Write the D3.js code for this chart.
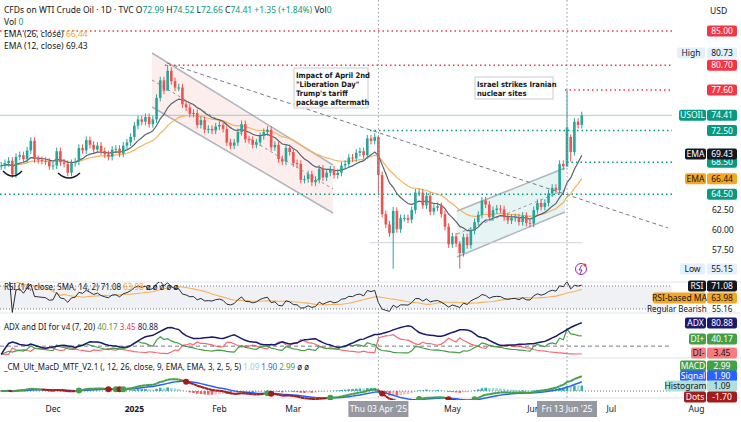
<!DOCTYPE html>
<html><head><meta charset="utf-8">
<script src="https://cdn.jsdelivr.net/npm/d3@7"></script>
<style>body{margin:0;background:#fff}svg{font-family:"Noto Sans",Roboto,sans-serif}</style>
</head><body><svg id="c" width="741" height="422"></svg>
<script>
// daily closes, WTI (weekdays from Nov 12 2024)
let closesNov = [68.1, 68.4, 68.7, 67.0, 69.2, 69.4, 68.9, 70.0, 71.2, 68.9, 68.8, 68.7, 68.6, 68.0]
let closesDec = [68.1, 69.9, 68.5, 68.3, 67.2, 68.4, 68.6, 70.3, 70.0, 71.3, 70.7, 70.1, 70.6, 69.9, 69.5, 69.2, 70.1, 70.2, 69.6, 70.6, 71.0, 71.7]
let closesJan = [73.1, 73.9, 73.6, 74.2, 73.3, 73.9, 76.6, 78.8, 77.5, 80.0, 78.7, 77.9, 77.9, 75.8, 75.4, 74.6, 74.7, 73.2, 73.8, 72.6, 72.7, 72.5, 73.0]
let closesFeb = [73.2, 72.7, 71.0, 70.6, 71.0, 72.3, 73.3, 71.4, 71.3, 70.7, 71.0, 71.8, 72.3, 72.6, 70.4, 70.7, 68.9, 68.6, 70.3, 69.8]
let closesMar = [68.4, 68.3, 66.3, 66.4, 67.0, 66.0, 66.3, 67.7, 66.6, 67.2, 67.6, 66.9, 67.2, 68.1, 68.3, 69.1, 69.0, 69.7, 69.9, 69.4, 71.5]
let closesApr = [71.2, 71.7, 66.9, 62.0, 60.7, 59.6, 62.4, 60.1, 61.5, 61.5, 61.3, 62.5, 64.7, 64.7, 63.1, 64.3, 62.3, 62.8, 63.0, 62.0, 60.4, 58.2]
let closesMay = [59.2, 58.3, 57.1, 59.1, 58.1, 59.9, 61.0, 61.9, 63.7, 63.2, 61.6, 62.5, 62.7, 62.6, 61.6, 61.2, 61.5, 61.6, 61.0, 61.8, 60.9, 60.8]
let closesJun = [62.5, 63.4, 62.9, 63.4, 64.6, 65.3, 65.0, 68.3, 68.0, 72.9, 69.8, 73.6, 73.2, 74.41]
// notable wicks: [bar index, high, low]
let extremes = [[45, 80.73, 78.9], [102, 71.9, 64.5], [106, 62.9, 55.12], [124, 58.6, 55.15], [153, 77.6, 67.9], [154, 72.0, 68.6]]

let levelsRed = [85.0, 80.7, 77.6]
let levelsGreen = [72.5, 68.5, 64.5]
let monthTicks = [['Dec', '2024-12-02'], ['2025', '2025-01-01'], ['Feb', '2025-02-03'], ['Mar', '2025-03-03'], ['May', '2025-05-01'], ['Jun', '2025-06-02'], ['Jul', '2025-07-01'], ['Aug', '2025-08-01']]

let closes = [].concat(closesNov, closesDec, closesJan, closesFeb, closesMar, closesApr, closesMay, closesJun)
let days = d3.timeDay.range(new Date(2024, 10, 12), new Date(2025, 7, 30)).filter(d => d.getDay() > 0 && d.getDay() < 6)
let fmt = d3.timeFormat('%Y-%m-%d')
let dayIdx = new Map(days.map((d, i) => [fmt(d), i]))

let bars = closes.map((c, i) => {
  let o = i ? closes[i - 1] : 68.0
  if (i == 154) o = 71.7
  let hi = Math.max(o, c) + 0.45, lo = Math.min(o, c) - 0.45
  let ex = extremes.find(e => e[0] == i)
  if (ex) { hi = ex[1]; lo = ex[2] }
  return { i, o, c, hi, lo }
})

// indicators
function ema(a, n) { let k = 2 / (n + 1), out = [], p = a[0]; a.forEach((v, i) => { p = i ? v * k + p * (1 - k) : v; out.push(p) }); return out }
function sma(a, n) { return a.map((v, i) => d3.mean(a.slice(Math.max(0, i - n + 1), i + 1))) }
function rma(a, n) { let out = [], p = a[0]; a.forEach((v, i) => { p = i ? (p * (n - 1) + v) / n : v; out.push(p) }); return out }
let ema12 = ema(closes, 12), ema26 = ema(closes, 26)
let ups = closes.map((c, i) => i ? Math.max(c - closes[i - 1], 0) : 0)
let dns = closes.map((c, i) => i ? Math.max(closes[i - 1] - c, 0) : 0)
let ru = rma(ups, 14), rd = rma(dns, 14)
let rsi = ru.map((u, i) => rd[i] == 0 ? 100 : 100 - 100 / (1 + u / rd[i]))
let rsiMa = sma(rsi, 14)
let tr = bars.map((b, i) => i ? Math.max(b.hi - b.lo, Math.abs(b.hi - bars[i - 1].c), Math.abs(b.lo - bars[i - 1].c)) : b.hi - b.lo)
let pdm = bars.map((b, i) => { if (!i) return 0; let u = b.hi - bars[i - 1].hi, d = bars[i - 1].lo - b.lo; return u > d && u > 0 ? u : 0 })
let mdm = bars.map((b, i) => { if (!i) return 0; let u = b.hi - bars[i - 1].hi, d = bars[i - 1].lo - b.lo; return d > u && d > 0 ? d : 0 })
let atr = rma(tr, 7), sp = rma(pdm, 7), sm = rma(mdm, 7)
let diP = sp.map((v, i) => 100 * v / atr[i]), diM = sm.map((v, i) => 100 * v / atr[i])
let dx = diP.map((v, i) => 100 * Math.abs(v - diM[i]) / Math.max(v + diM[i], 1e-6))
let adx = rma(dx, 7)
let macd = ema12.map((v, i) => v - ema26[i]), signal = ema(macd, 9)
let hist = macd.map((v, i) => v - signal[i])

// scales
let svg = d3.select('#c')
let x = d3.scaleLinear().domain([14, 153]).range([53, 567])
let y = d3.scaleLinear().domain([85, 60]).range([31, 230])
let yR = d3.scaleLinear().domain([70, 30]).range([286, 309])
let yA = d3.scaleLinear().domain([0, 80.88]).range([354.4, 321])
let yM = d3.scaleLinear().domain([0, 2.99]).range([391, 376])
const G = '#089981', R = '#f23645', W = 672

let defs = svg.append('defs')
;[['main', 0, 672, 283], ['rsi', 282, 672, 31], ['adx', 313, 672, 45], ['macd', 358, 672, 42]].forEach(([id, yy, w, h]) =>
  defs.append('clipPath').attr('id', id).append('rect').attr('x', 0).attr('y', id == 'main' ? 0 : yy).attr('width', w).attr('height', h))

// pane separators
;[282, 313, 358, 398].forEach(v => svg.append('line').attr('x1', 0).attr('x2', 741).attr('y1', v).attr('y2', v).attr('stroke', '#e0e3eb'))

let main = svg.append('g').attr('clip-path', 'url(#main)')

// descending channel
let dc = [[152, 53], [333, 165], [333, 213], [152, 107]]
main.append('path').attr('d', d3.line()(dc)).attr('fill', '#f7c6c6').attr('fill-opacity', 0.3)
main.append('line').attr('x1', 152).attr('y1', 53).attr('x2', 333).attr('y2', 165).attr('stroke', '#b2b5be').attr('stroke-width', 1.5)
main.append('line').attr('x1', 152).attr('y1', 107).attr('x2', 333).attr('y2', 213).attr('stroke', '#b2b5be').attr('stroke-width', 1.5)
main.append('line').attr('x1', 152).attr('y1', 80).attr('x2', 333).attr('y2', 189).attr('stroke', '#9598a1').attr('stroke-dasharray', '3,3')
// ascending channel
let ac = [[457, 211], [565, 168], [565, 212], [457, 257]]
main.append('path').attr('d', d3.line()(ac)).attr('fill', '#b8e0e0').attr('fill-opacity', 0.35)
main.append('line').attr('x1', 457).attr('y1', 211).attr('x2', 565).attr('y2', 168).attr('stroke', '#b2b5be').attr('stroke-width', 1.5)
main.append('line').attr('x1', 457).attr('y1', 257).attr('x2', 565).attr('y2', 212).attr('stroke', '#b2b5be').attr('stroke-width', 1.5)
main.append('line').attr('x1', 457).attr('y1', 234).attr('x2', 565).attr('y2', 190).attr('stroke', '#9598a1').attr('stroke-dasharray', '3,3')

// trendline
main.append('line').attr('x1', 167).attr('y1', 63).attr('x2', 668).attr('y2', 228).attr('stroke', '#787b86').attr('stroke-dasharray', '4,3')
main.append('line').attr('x1', 370).attr('x2', 582).attr('y1', y(58.4)).attr('y2', y(58.4)).attr('stroke', '#d1d4dc')

// levels
let redStart = [0, 165, 565], greenStart = [370, 567, 0]
levelsRed.forEach((v, i) => main.append('line').attr('x1', redStart[i]).attr('x2', W).attr('y1', y(v)).attr('y2', y(v)).attr('stroke', R).attr('stroke-width', 1.5).attr('stroke-dasharray', '1.5,3'))
levelsGreen.forEach((v, i) => main.append('line').attr('x1', greenStart[i]).attr('x2', W).attr('y1', y(v)).attr('y2', y(v)).attr('stroke', G).attr('stroke-width', 1.5).attr('stroke-dasharray', '1.5,3'))
main.append('line').attr('x1', 0).attr('x2', W).attr('y1', y(74.41)).attr('y2', y(74.41)).attr('stroke', G).attr('stroke-opacity', 0.4)

// vertical crosshair lines
;[102, 153].forEach(i => svg.append('line').attr('x1', x(i)).attr('x2', x(i)).attr('y1', 0).attr('y2', 398).attr('stroke', '#9598a1').attr('stroke-dasharray', '1.5,2.5'))

// EMAs
let ln = (arr, sc) => d3.line().x((d, i) => x(i)).y(d => sc(d))(arr)
main.append('path').attr('d', ln(ema26, y)).attr('fill', 'none').attr('stroke', '#f5b35b').attr('stroke-width', 1.2)
main.append('path').attr('d', ln(ema12, y)).attr('fill', 'none').attr('stroke', '#5d606b').attr('stroke-width', 1.2)

// candles
let cg = main.selectAll('g.c').data(bars).join('g').attr('class', 'c')
cg.append('line').attr('x1', d => x(d.i)).attr('x2', d => x(d.i)).attr('y1', d => y(d.hi)).attr('y2', d => y(d.lo)).attr('stroke', d => d.c >= d.o ? '#26a69a' : '#ef5350')
cg.append('rect').attr('x', d => x(d.i) - 1.3).attr('width', 2.6).attr('y', d => y(Math.max(d.o, d.c)))
  .attr('height', d => Math.max(1, Math.abs(y(d.o) - y(d.c)))).attr('fill', d => d.c >= d.o ? '#26a69a' : '#ef5350')

// smiles
;[[3, 22, 171], [58, 80, 173]].forEach(([a, b, yy]) => main.append('path').attr('d', `M${a},${yy} Q${(a + b) / 2},${yy + 10} ${b},${yy}`).attr('fill', 'none').attr('stroke', '#131722').attr('stroke-width', 1.5))

// annotations
function note(x0, y0, w, lines) {
  let g = svg.append('g')
  g.append('rect').attr('x', x0).attr('y', y0).attr('width', w).attr('height', lines.length * 9 + 4).attr('fill', '#fff').attr('stroke', '#c9cbd1')
  lines.forEach((t, i) => g.append('text').attr('x', x0 + 2).attr('y', y0 + 10 + i * 9).text(t).attr('font-size', 7.6).attr('font-weight', 600).attr('fill', '#131722').attr('font-family', '"Liberation Sans Narrow","DejaVu Sans Condensed",sans-serif'))
}
note(294, 68, 74, ['Impact of April 2nd', '"Liberation Day"', "Trump's tariff", 'package aftermath'])
note(475, 77, 78, ['Israel strikes Iranian', 'nuclear sites'])

// lightning icon
svg.append('circle').attr('cx', 581).attr('cy', 269).attr('r', 5.5).attr('fill', 'none').attr('stroke', '#9c27b0')
svg.append('path').attr('d', 'M582,265 L579,270 L582,270 L580,274').attr('fill', 'none').attr('stroke', '#9c27b0')
svg.append('circle').attr('cx', 585).attr('cy', 265).attr('r', 1.5).attr('fill', R)

// legend
let t = (xx, yy, s, col, fs, fw) => svg.append('text').attr('x', xx).attr('y', yy).text(s).attr('fill', col || '#131722').attr('font-size', fs || 8.5).attr('font-weight', fw || 400)
let leg = svg.append('text').attr('x', 4).attr('y', 13).attr('font-size', 8.5).attr('fill', '#131722')
leg.append('tspan').text('CFDs on WTI Crude Oil · 1D · TVC  O')
leg.append('tspan').text('72.99').attr('fill', G)
leg.append('tspan').text(' H')
leg.append('tspan').text('74.52').attr('fill', G)
leg.append('tspan').text(' L')
leg.append('tspan').text('72.66').attr('fill', G)
leg.append('tspan').text(' C')
leg.append('tspan').text('74.41 +1.35 (+1.84%)').attr('fill', G)
leg.append('tspan').text(' Vol')
leg.append('tspan').text('0').attr('fill', G)
let l2 = svg.append('text').attr('x', 4).attr('y', 25).attr('font-size', 8.5).attr('fill', '#131722')
l2.append('tspan').text('Vol ')
l2.append('tspan').text('0').attr('fill', G)
let l3 = svg.append('text').attr('x', 4).attr('y', 37).attr('font-size', 8.5).attr('fill', '#131722')
l3.append('tspan').text('EMA (26, close) ')
l3.append('tspan').text('66.44').attr('fill', '#f5a623')
t(4, 49, 'EMA (12, close)  69.43')

// price axis
function tag(yy, s, bg, col, xx, w) {
  svg.append('rect').attr('x', xx || 707).attr('y', yy - 5.5).attr('width', w || 30).attr('height', 11).attr('rx', 2).attr('fill', bg)
  svg.append('text').attr('x', (xx || 707) + (w || 30) / 2).attr('y', yy + 3).attr('text-anchor', 'middle').text(s).attr('fill', col).attr('font-size', 8.5)
}
t(710, 14, 'USD')
;[62.5, 60, 57.5].forEach(v => t(712, y(v) + 3, v.toFixed(2), '#131722'))
levelsRed.forEach(v => tag(y(v), v.toFixed(2), R, '#fff'))
levelsGreen.forEach(v => tag(y(v), v.toFixed(2), G, '#fff'))
tag(53, 'High', '#e3effd', '#131722', 677, 28); tag(53, '80.73', '#e3effd', '#131722')
tag(y(74.41), 'USOIL', G, '#fff', 679, 27); tag(y(74.41), '74.41', G, '#fff')
tag(y(69.43) - 1, 'EMA', '#131722', '#fff', 685, 21); tag(y(69.43) - 1, '69.43', '#131722', '#fff')
tag(y(66.44), 'EMA', '#f5a623', '#131722', 685, 21); tag(y(66.44), '66.44', '#f5a623', '#131722')
tag(269, 'Low', '#e3effd', '#131722', 680, 25); tag(269, '55.15', '#e3effd', '#131722')

// RSI pane
let rp = svg.append('g').attr('clip-path', 'url(#rsi)')
rp.append('rect').attr('x', 0).attr('width', W).attr('y', yR(70)).attr('height', yR(30) - yR(70)).attr('fill', '#f0f1f5')
;[70, 30].forEach(v => rp.append('line').attr('x1', 0).attr('x2', W).attr('y1', yR(v)).attr('y2', yR(v)).attr('stroke', '#787b86').attr('stroke-dasharray', '1,2'))
rp.append('path').attr('d', ln(rsiMa, yR)).attr('fill', 'none').attr('stroke', '#f5b35b').attr('stroke-width', 1.1)
rp.append('path').attr('d', ln(rsi, yR)).attr('fill', 'none').attr('stroke', '#131722').attr('stroke-width', 0.9)
let rl = svg.append('text').attr('x', 4).attr('y', 290).attr('font-size', 8).attr('fill', '#131722')
rl.append('tspan').text('RSI (14, close, SMA, 14, 2)  71.08  ')
rl.append('tspan').text('63.98').attr('fill', '#f5a623')
rl.append('tspan').text('  ø  ø  ø  ø  ø')
tag(286, 'RSI', '#131722', '#fff', 688, 18); tag(286, '71.08', '#131722', '#fff')
tag(298, 'RSI-based MA', '#f5a623', '#131722', 653, 53); tag(298, '63.98', '#f5a623', '#131722')
t(647, 312, 'Regular Bearish', '#131722', 8); t(712, 312, '55.16', '#131722', 8)

// ADX pane
let ap = svg.append('g').attr('clip-path', 'url(#adx)')
ap.append('line').attr('x1', 0).attr('x2', 741).attr('y1', yA(20)).attr('y2', yA(20)).attr('stroke', '#787b86').attr('stroke-dasharray', '4,3')
ap.append('path').attr('d', ln(diM, yA)).attr('fill', 'none').attr('stroke', '#f23645').attr('stroke-opacity', 0.75).attr('stroke-width', 1.2)
ap.append('path').attr('d', ln(diP, yA)).attr('fill', 'none').attr('stroke', '#43a047').attr('stroke-width', 1.2)
ap.append('path').attr('d', ln(adx, yA)).attr('fill', 'none').attr('stroke', '#1a1a6e').attr('stroke-width', 1.5)
let al = svg.append('text').attr('x', 4).attr('y', 330).attr('font-size', 8).attr('fill', '#131722')
al.append('tspan').text('ADX and DI for v4 (7, 20)  ')
al.append('tspan').text('40.17 ').attr('fill', '#43a047')
al.append('tspan').text('3.45 ').attr('fill', R)
al.append('tspan').text('80.88').attr('fill', '#1a1a6e')
tag(323, 'ADX', '#1a1a6e', '#fff', 685, 21); tag(323, '80.88', '#1a1a6e', '#fff')
tag(339, 'DI+', '#43a047', '#fff', 689, 17); tag(339, '40.17', '#43a047', '#fff')
tag(353, 'DI-', '#f77c80', '#131722', 691, 15); tag(353, '3.45', '#f77c80', '#131722')

// MACD pane
let mp = svg.append('g').attr('clip-path', 'url(#macd)')
mp.append('line').attr('x1', 0).attr('x2', W).attr('y1', yM(0)).attr('y2', yM(0)).attr('stroke', '#787b86').attr('stroke-dasharray', '1,2')
mp.selectAll('rect.h').data(hist).join('rect').attr('class', 'h').attr('x', (d, i) => x(i) - 1.3).attr('width', 2.6)
  .attr('y', d => Math.min(yM(0), yM(d))).attr('height', d => Math.abs(yM(d) - yM(0)))
  .attr('fill', (d, i) => d >= 0 ? '#26a69a' : '#ef5350').attr('fill-opacity', (d, i) => i && Math.abs(d) > Math.abs(hist[i - 1]) ? 0.9 : 0.4)
mp.append('path').attr('d', ln(signal, yM)).attr('fill', 'none').attr('stroke', '#2962ff').attr('stroke-width', 1.5)
for (let i = 1; i < macd.length; i++) {
  mp.append('line').attr('x1', x(i - 1)).attr('x2', x(i)).attr('y1', yM(macd[i - 1])).attr('y2', yM(macd[i]))
    .attr('stroke', macd[i] >= signal[i] ? '#43a047' : '#a31c1c').attr('stroke-width', 2)
}
for (let i = 16; i < macd.length; i++) {
  let a = macd[i - 1] - signal[i - 1], b = macd[i] - signal[i]
  if (a * b < 0) mp.append('circle').attr('cx', x(i)).attr('cy', yM(macd[i])).attr('r', 3).attr('fill', b > 0 ? '#43a047' : '#a31c1c')
}
let ml = svg.append('text').attr('x', 4).attr('y', 370).attr('font-size', 8).attr('fill', '#131722')
ml.append('tspan').text('_CM_Ult_MacD_MTF_V2.1 (, 12, 26, close, 9, EMA, EMA, 3, 2, 5, 5)  ')
ml.append('tspan').text('1.09  ').attr('fill', '#8fd3d0')
ml.append('tspan').text('1.90  ').attr('fill', '#2962ff')
ml.append('tspan').text('2.99').attr('fill', '#43a047')
ml.append('tspan').text('  ø  ø')
tag(366, 'MACD', '#43a047', '#fff', 680, 26); tag(366, '2.99', '#43a047', '#fff')
tag(376, 'Signal', '#2962ff', '#fff', 680, 26); tag(376, '1.90', '#2962ff', '#fff')
tag(386, 'Histogram', '#b2dfdb', '#131722', 665, 41); tag(386, '1.09', '#b2dfdb', '#131722')
tag(397, 'Dots', '#a31c1c', '#fff', 684, 22); tag(397, '-1.70', '#a31c1c', '#fff')

// time axis
monthTicks.forEach(([s, d]) => t(x(dayIdx.get(d)), 412, s, '#131722', 8.5, s == '2025' ? 700 : 400).attr('text-anchor', 'middle'))
;[[102, 'Thu 03 Apr \'25'], [153, 'Fri 13 Jun \'25']].forEach(([i, s]) => {
  svg.append('rect').attr('x', x(i) - 30).attr('y', 401).attr('width', 60).attr('height', 16).attr('fill', '#9598a1')
  t(x(i), 412, s, '#fff', 8.5).attr('text-anchor', 'middle')
})
</script></body></html>
